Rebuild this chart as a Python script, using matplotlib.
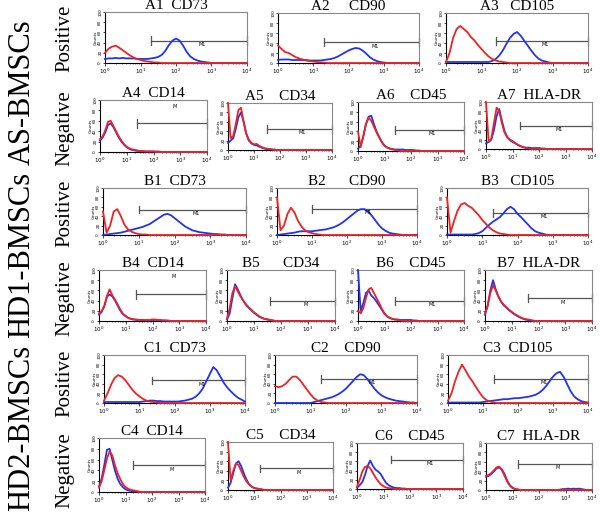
import numpy as np
import matplotlib.pyplot as plt

# histogram heights (percent of y axis) read every 0.1 decade from 10^0 to 10^4
A1_red = [20, 28, 32, 34, 30, 25, 20, 15, 11, 8, 6, 4, 3, 2, 1, 1] + [0] * 25
A1_blue = [8, 9, 9, 10, 9, 10, 9, 9, 9, 8, 8, 8, 8, 9, 10, 12, 16, 24, 35, 44,
           48, 44, 34, 22, 13, 8, 5, 3, 2, 1] + [0] * 11
A2_red = [35, 28, 22, 20, 16, 12, 9, 7, 5, 4, 3, 2, 1, 1] + [0] * 27
A2_blue = [6, 7, 7, 7, 6, 6, 6, 6, 6, 5, 5, 5, 5, 6, 7, 8, 10, 13, 17, 21,
           25, 28, 30, 29, 25, 19, 12, 7, 4, 2, 1] + [0] * 10
A3_red = [2, 20, 50, 68, 74, 68, 62, 52, 45, 36, 28, 20, 13, 8, 5, 3, 2, 1] + [0] * 23
A3_blue = [2] * 13 + [4, 8, 15, 25, 38, 50, 58, 62, 55, 45, 35, 25, 16, 9, 5, 3, 1] + [0] * 11
A4_red = [25, 30, 42, 58, 60, 50, 40, 30, 22, 15, 10, 7, 5, 4, 3, 2, 2, 1, 1, 1, 1] + [0] * 20
A4_blue = [22, 28, 38, 52, 55, 48, 38, 28, 20, 14, 9, 6, 4, 3, 2, 2, 1, 1, 1, 1,
           1, 1, 1] + [0] * 18
A5_red = [100, 25, 30, 55, 85, 90, 60, 35, 22, 15, 12, 13, 9, 6, 4, 3, 2, 1] + [0] * 23
A5_blue = [15, 20, 25, 45, 70, 80, 60, 35, 20, 14, 11, 10, 7, 5, 3, 2, 2, 1, 1] + [0] * 22
A6_red = [40, 8, 30, 55, 68, 62, 50, 38, 28, 18, 11, 7, 5, 3, 2, 1] + [0] * 25
A6_blue = [5, 10, 30, 55, 70, 72, 55, 40, 28, 18, 11, 7, 5, 4, 3, 3, 3, 3, 2, 2,
           2, 2, 1, 1] + [0] * 17
A7_red = [100, 15, 22, 55, 88, 80, 55, 35, 25, 20, 17, 13, 9, 6, 4, 2, 1] + [0] * 24
A7_blue = [12, 15, 20, 40, 70, 85, 60, 38, 26, 19, 15, 12, 9, 6, 4, 3, 3, 2, 2, 2,
           2, 1, 1] + [0] * 18

B1_red = [50, 5, 20, 50, 55, 40, 22, 12, 7, 4, 2, 1, 1] + [0] * 28
B1_blue = [0, 1, 2, 3, 4, 5, 7, 9, 11, 13, 15, 17, 20, 23, 28, 33, 38, 43, 45, 42,
           36, 30, 24, 18, 14, 10, 8, 6, 5, 4, 3, 2, 2, 1, 1] + [0] * 6
B2_red = [80, 10, 20, 45, 58, 48, 30, 18, 10, 6, 4, 2, 1] + [0] * 28
B2_blue = [0, 1, 2, 3, 4, 5, 7, 8, 8, 8, 8, 9, 10, 11, 12, 14, 16, 19, 23, 28,
           34, 40, 46, 52, 55, 55, 50, 42, 32, 22, 14, 9, 5, 3, 2, 1] + [0] * 5
B3_red = [80, 5, 30, 52, 65, 68, 62, 58, 50, 42, 32, 24, 16, 10, 6, 3, 2, 1] + [0] * 23
B3_blue = [1] * 8 + [2, 4, 8, 15, 22, 28, 33, 38, 46, 55, 60, 55, 45, 38, 30, 22,
                     14, 8, 5, 3, 1] + [0] * 12
B4_red = [15, 20, 28, 50, 62, 50, 42, 32, 22, 14, 10, 6, 4, 3, 3, 2, 2, 2, 2, 2,
          3, 3, 2, 2, 1, 1, 1] + [0] * 14
B4_blue = [12, 18, 30, 48, 52, 48, 40, 30, 20, 13, 9, 6, 4, 3, 2, 2, 2, 1, 1, 1,
           2, 2, 2, 1, 1, 1] + [0] * 15
B5_red = [5, 25, 55, 68, 58, 48, 40, 33, 27, 22, 17, 13, 9, 6, 4, 3, 2, 1] + [0] * 23
B5_blue = [3, 15, 45, 72, 62, 50, 40, 32, 26, 21, 16, 12, 8, 6, 4, 3, 2, 1] + [0] * 23
B6_red = [20, 15, 25, 45, 62, 65, 55, 45, 35, 24, 15, 9, 6, 4, 3, 2, 1] + [0] * 24
B6_blue = [100, 20, 35, 55, 60, 50, 45, 38, 30, 22, 14, 9, 6, 4, 3, 3, 2, 2, 2, 2,
           2, 1, 1] + [0] * 18
B7_red = [15, 30, 55, 70, 60, 48, 38, 32, 27, 22, 18, 14, 11, 8, 5, 4, 3, 2, 1] + [0] * 22
B7_blue = [12, 30, 60, 80, 62, 48, 38, 31, 26, 21, 17, 13, 10, 7, 5, 3, 2, 1] + [0] * 23

C1_red = [5, 20, 38, 52, 58, 55, 48, 38, 28, 20, 14, 9, 5, 3, 2, 1] + [0] * 25
C1_blue = [2] * 11 + [3, 4, 5, 5, 4, 4, 3, 3, 3, 3, 3, 4, 5, 7, 9, 13, 20, 30, 45,
                      60, 75, 68, 55, 42, 32, 24, 17, 11, 7, 3]
C2_red = [35, 33, 35, 40, 48, 55, 55, 48, 38, 28, 18, 10, 5, 2, 1] + [0] * 26
C2_blue = [0] * 11 + [2, 4, 6, 8, 10, 12, 15, 19, 24, 30, 38, 46, 54, 60, 58, 50,
                      40, 30, 22, 16, 12, 9, 7, 5, 4, 3, 2, 1, 1, 0]
C3_red = [5, 20, 45, 65, 80, 68, 55, 45, 33, 22, 12, 6, 3, 1] + [0] * 27
C3_blue = [1] * 10 + [2, 3, 4, 5, 6, 7, 8, 8, 9, 10, 10, 11, 12, 13, 15, 17, 21, 27,
                      35, 45, 55, 62, 65, 55, 40, 25, 14, 8, 4, 2, 1]
C4_red = [8, 20, 40, 62, 75, 68, 50, 35, 24, 15, 9, 6, 4, 3, 2, 1] + [0] * 25
C4_blue = [10, 25, 50, 78, 80, 60, 40, 25, 15, 9, 5, 3, 2, 1, 1] + [0] * 26
C5_red = [100, 20, 40, 55, 52, 40, 28, 18, 12, 7, 4, 3, 2, 1] + [0] * 27
C5_blue = [5, 15, 35, 55, 60, 50, 35, 22, 12, 7, 4, 3, 2, 1] + [0] * 27
C6_red = [5, 20, 38, 48, 50, 45, 35, 25, 17, 10, 6, 3, 2, 1] + [0] * 27
C6_blue = [3, 8, 15, 30, 50, 62, 50, 42, 38, 32, 22, 13, 8, 5, 3, 2, 2, 1, 1] + [0] * 22
C7_red = [30, 32, 36, 42, 48, 50, 42, 30, 18, 9, 4, 2, 1] + [0] * 28
C7_blue = [28, 30, 34, 40, 46, 48, 44, 34, 20, 10, 5, 2, 1] + [0] * 15 + \
          [1, 2, 2, 3, 2, 3, 2, 3, 2, 1] + [0] * 3

titles = ["A1  CD73", "A2     CD90", "A3   CD105",
          "A4  CD14", "A5    CD34", "A6    CD45", "A7  HLA-DR",
          "B1  CD73", "B2      CD90", "B3   CD105",
          "B4  CD14", "B5      CD34", "B6    CD45", "B7  HLA-DR",
          "C1  CD73", "C2    CD90", "C3  CD105",
          "C4  CD14", "C5    CD34", "C6    CD45", "C7  HLA-DR"]
reds = [A1_red, A2_red, A3_red, A4_red, A5_red, A6_red, A7_red,
        B1_red, B2_red, B3_red, B4_red, B5_red, B6_red, B7_red,
        C1_red, C2_red, C3_red, C4_red, C5_red, C6_red, C7_red]
blues = [A1_blue, A2_blue, A3_blue, A4_blue, A5_blue, A6_blue, A7_blue,
         B1_blue, B2_blue, B3_blue, B4_blue, B5_blue, B6_blue, B7_blue,
         C1_blue, C2_blue, C3_blue, C4_blue, C5_blue, C6_blue, C7_blue]
# M1 gate: start (decades), height (fraction of axis), label
gate_start = [1.3, 1.3, 1.4, 1.4, 1.5, 1.4, 1.3,
              1.0, 1.0, 1.3, 1.4, 1.6, 1.4, 1.6,
              1.35, 1.3, 1.3, 1.3, 1.2, 1.3, 1.2]
gate_height = [0.44, 0.42, 0.45, 0.55, 0.45, 0.43, 0.5,
               0.54, 0.55, 0.47, 0.52, 0.4, 0.4, 0.45,
               0.47, 0.5, 0.5, 0.5, 0.45, 0.64, 0.55]
gate_label = ["M1", "M1", "M1", "M", "M1", "M1", "M1",
              "M1", "M1", "M1", "M", "M", "M1", "M",
              "M1", "M1", "M1", "M", "M", "M1", "M"]

channels = 10 ** (np.arange(41) / 10)

# axes boxes in pixels: left, top, right, bottom
boxes = [(105, 12, 247, 63), (278, 13, 419, 63), (446, 13, 588, 63),
         (100, 100, 207, 152), (228, 103, 332, 150), (358, 102, 464, 151), (486, 102, 592, 149),
         (103, 188, 246, 235), (277, 188, 417, 235), (447, 188, 588, 235),
         (99, 270, 206, 321), (227, 270, 335, 321), (358, 270, 464, 321), (485, 270, 592, 321),
         (104, 355, 245, 403), (275, 355, 417, 403), (448, 355, 588, 403),
         (99, 438, 205, 492), (228, 442, 333, 490), (357, 443, 463, 489), (486, 443, 592, 490)]

W, H = 600, 514
fig = plt.figure(figsize=(6, 5.14), dpi=100)
serif = "Liberation Serif"

for i in range(21):
    l, t, r, b = boxes[i]
    ax = fig.add_axes([l / W, 1 - b / H, (r - l) / W, (b - t) / H])
    ax.plot(channels, blues[i], color="#2233ee", lw=1.3, clip_on=False, zorder=3)
    ax.plot(channels, reds[i], color="#ee2222", lw=1.3, clip_on=False, zorder=4)
    ax.set_xscale("log")
    ax.set_xlim(1, 1e4)
    ax.set_ylim(0, 100)

    # gate marker
    g0 = 10 ** gate_start[i]
    gh = gate_height[i]
    ax.plot([g0, 1e4], [gh * 100, gh * 100], color="#555555", lw=0.9, zorder=2)
    ax.plot([g0, g0], [gh * 100 - 8, gh * 100 + 8], color="#555555", lw=0.9, zorder=2)
    ax.plot([1e4, 1e4], [gh * 100 - 8, gh * 100 + 8], color="#555555", lw=0.9,
            zorder=2, clip_on=False)
    mid = 10 ** ((gate_start[i] + 4) / 2 + 0.1)
    if gate_label[i] == "M" and i in (3, 10):
        ax.text(mid, 88, gate_label[i], fontsize=3.5, ha="center", va="center")
    else:
        ax.text(mid, gh * 100 - 8, gate_label[i], fontsize=3.5, ha="center", va="center")

    ax.set_xticks([1, 10, 100, 1000, 10000])
    ax.set_xticklabels(["$10^0$", "$10^1$", "$10^2$", "$10^3$", "$10^4$"])
    ax.set_yticks([0, 20, 40, 60, 80, 100])
    ax.set_yticklabels(["0", "20", "40", "60", "80", "100"], rotation=90, va="center")
    ax.tick_params(axis="x", labelsize=4, length=2, width=0.5, pad=1)
    ax.tick_params(axis="x", which="minor", length=1, width=0.4)
    ax.tick_params(axis="y", labelsize=3, length=1.5, width=0.5, pad=0.5)
    ax.set_ylabel("Counts", fontsize=3, labelpad=0.5)
    for s in ["top", "right"]:
        ax.spines[s].set_color("#888888")
        ax.spines[s].set_linewidth(0.8)
    for s in ["left", "bottom"]:
        ax.spines[s].set_linewidth(0.8)
    ax.set_title(titles[i], fontsize=11, family=serif, pad=-2.5)

# row labels
for txt, y in [("AS-BMSCs", 92), ("HD1-BMSCs", 255), ("HD2-BMSCs", 428)]:
    fig.text(22 / W, 1 - y / H, txt, rotation=90, fontsize=22, family=serif,
             ha="center", va="center")
for txt, y in [("Positive", 38), ("Negative", 128), ("Positive", 213),
               ("Negative", 298), ("Positive", 383), ("Negative", 470)]:
    fig.text(65 / W, 1 - y / H, txt, rotation=90, fontsize=15, family=serif,
             ha="center", va="center")

plt.savefig("out.png", dpi=100)
